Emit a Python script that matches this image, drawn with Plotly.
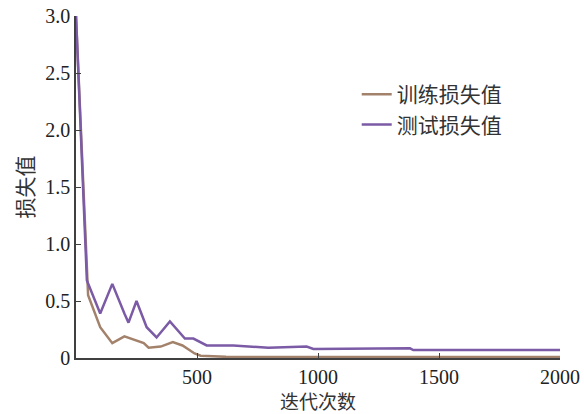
import plotly.graph_objects as go

train_x = [0, 50, 100, 150, 200, 250, 280, 300, 350, 400, 440, 490, 515, 620, 1000, 1500, 2000]
train_y = [3.0, 0.55, 0.27, 0.13, 0.19, 0.15, 0.13, 0.09, 0.10, 0.14, 0.11, 0.04, 0.02, 0.01, 0.008, 0.008, 0.008]

test_x = [0, 45, 100, 150, 200, 217, 250, 292, 333, 388, 450, 485, 540, 650, 795, 953, 981, 1380, 1394, 2000]
test_y = [3.0, 0.68, 0.39, 0.65, 0.39, 0.31, 0.50, 0.27, 0.18, 0.32, 0.17, 0.17, 0.11, 0.11, 0.09, 0.10, 0.08, 0.085, 0.07, 0.07]

x_ticks = [500, 1000, 1500, 2000]
y_ticks = [0, 0.5, 1.0, 1.5, 2.0, 2.5, 3.0]
y_tick_text = ["0", "0.5", "1.0", "1.5", "2.0", "2.5", "3.0"]

serif = "Liberation Serif, Times New Roman, serif"
cjk = "Noto Sans CJK SC"

fig = go.Figure()
fig.add_trace(go.Scatter(x=train_x, y=train_y, mode="lines", name="训练损失值",
                         line=dict(color="#a3826c", width=2.5)))
fig.add_trace(go.Scatter(x=test_x, y=test_y, mode="lines", name="测试损失值",
                         line=dict(color="#7b5aa6", width=2.5)))

fig.update_layout(
    width=584, height=414,
    margin=dict(l=76, r=24, t=16, b=56, autoexpand=False),
    plot_bgcolor="white", paper_bgcolor="white",
    showlegend=True,
    legend=dict(x=0.58, y=0.83, xanchor="left", yanchor="top",
                font=dict(family=cjk, size=21, color="#333333"),
                bgcolor="rgba(0,0,0,0)", tracegroupgap=0),
    xaxis=dict(range=[0, 2000], tickvals=x_ticks, ticks="inside", ticklen=5,
               tickcolor="#404040", showline=True, linecolor="#404040", linewidth=1.5,
               showgrid=False, zeroline=False, automargin=False, ticklabelstandoff=0,
               tickfont=dict(family=serif, size=20, color="#222222"),
               title=dict(text="迭代次数", font=dict(family=cjk, size=19, color="#333333"), standoff=13)),
    yaxis=dict(range=[0, 3.0], tickvals=y_ticks, ticktext=y_tick_text, ticks="inside", ticklen=5,
               tickcolor="#404040", showline=True, linecolor="#404040", linewidth=1.5,
               showgrid=False, zeroline=False, automargin=False,
               tickfont=dict(family=serif, size=20, color="#222222"),
               title=dict(text="损失值", font=dict(family=cjk, size=21, color="#333333"), standoff=6)),
)

fig.write_html("out.html", config={"displayModeBar": False},
               post_script="document.body.style.margin='0';")
